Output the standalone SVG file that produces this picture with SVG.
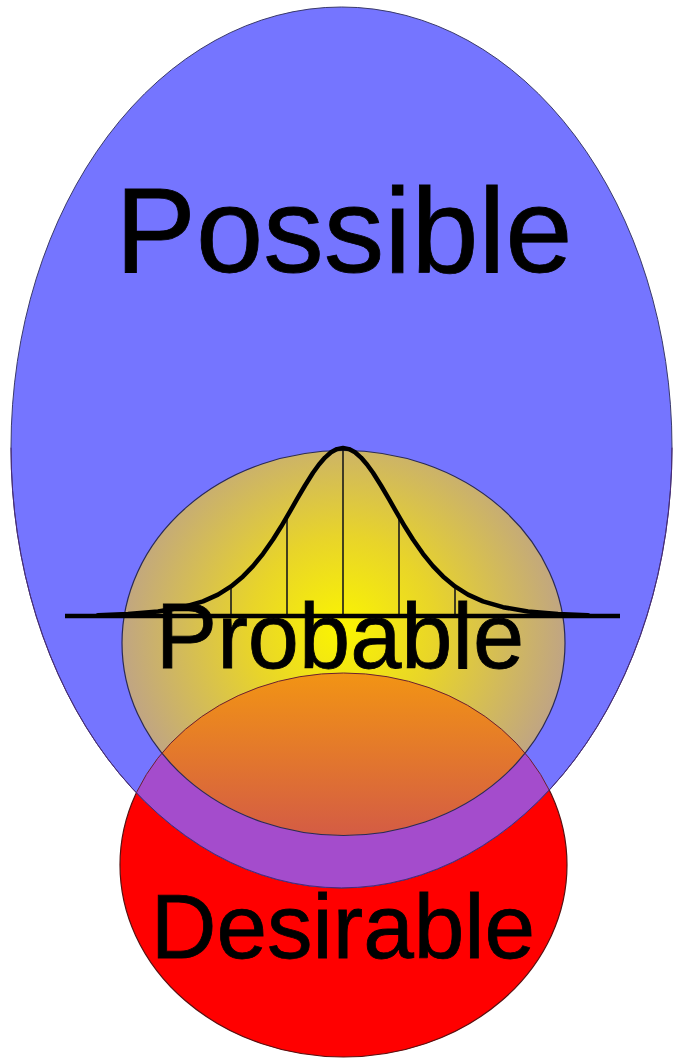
<svg xmlns="http://www.w3.org/2000/svg" width="677" height="1059" viewBox="0 0 677 1059">
<style>
.lbl{font-family:"Liberation Sans",Arial,sans-serif;fill:#000;stroke:#000;stroke-width:0.8;text-anchor:middle}
.edge{fill:none;stroke:#2a2a55;stroke-width:1.2}
.tick{stroke:#1a1a1a;stroke-width:1.6}
</style>
<defs>
<clipPath id="clipBlue"><ellipse cx="341.5" cy="447.5" rx="330.5" ry="440.5"/></clipPath>
<clipPath id="clipProb"><ellipse cx="343.5" cy="643" rx="221.5" ry="192.5"/></clipPath>
<radialGradient id="gProb" gradientUnits="userSpaceOnUse" cx="343" cy="630" r="235">
<stop offset="0" stop-color="#fbf500"/>
<stop offset="0.4" stop-color="#e8d42a"/>
<stop offset="1" stop-color="#bca08c"/>
</radialGradient>
<linearGradient id="gOrange" gradientUnits="userSpaceOnUse" x1="0" y1="673" x2="0" y2="835">
<stop offset="0" stop-color="#f29414"/>
<stop offset="1" stop-color="#d45c44"/>
</linearGradient>
</defs>
<rect width="677" height="1059" fill="#fff"/>
<g id="desirable">
<ellipse cx="343.5" cy="865" rx="223.5" ry="192" fill="#ff0000" stroke="#5a1010" stroke-width="1.2"/>
</g>
<g id="possible">
<ellipse cx="341.5" cy="447.5" rx="330.5" ry="440.5" fill="#7575ff" stroke="#3a3a6a" stroke-width="1"/>
<ellipse cx="343.5" cy="865" rx="223.5" ry="192" fill="#a44ccc" clip-path="url(#clipBlue)"/>
</g>
<g id="probable">
<ellipse cx="343.5" cy="643" rx="221.5" ry="192.5" fill="url(#gProb)"/>
<ellipse cx="343.5" cy="865" rx="223.5" ry="192" fill="url(#gOrange)" clip-path="url(#clipProb)"/>
<ellipse class="edge" cx="343.5" cy="643" rx="221.5" ry="192.5"/>
<ellipse cx="343.5" cy="865" rx="223.5" ry="192" fill="none" stroke="#6a2030" stroke-width="1" clip-path="url(#clipBlue)"/>
<path d="M 11,447.5 A 330.5,440.5 0 0 0 672,447.5" fill="none" stroke="#4a2a7a" stroke-width="1"/>
</g>
<g id="bell-curve">
<line class="tick" x1="231" y1="616" x2="231" y2="586"/>
<line class="tick" x1="287" y1="616" x2="287" y2="517"/>
<line class="tick" x1="343" y1="616" x2="343" y2="449"/>
<line class="tick" x1="399" y1="616" x2="399" y2="517"/>
<line class="tick" x1="455" y1="616" x2="455" y2="586"/>
<line x1="65" y1="616" x2="620" y2="616" stroke="#000" stroke-width="4.5"/>
<path d="M 98,615.2 L 128,614 L 158,611.5 L 183,607.2 L 203,601.4 L 218,594.6 L 231,586.4 L 243,576.4 L 253,566.1 L 263,553.8 L 273,539.5 L 281,526.8 L 289,513.2 L 297,499.2 L 305,485.5 L 313,472.8 L 319,464.5 L 325,457.6 L 331,452.3 L 337,449.1 L 343,448 L 349,449.1 L 355,452.3 L 361,457.6 L 367,464.5 L 373,472.8 L 381,485.5 L 389,499.2 L 397,513.2 L 405,526.8 L 413,539.5 L 423,553.8 L 433,566.1 L 443,576.4 L 455,586.4 L 468,594.6 L 483,601.4 L 503,607.2 L 528,611.5 L 558,614 L 588,615.2" fill="none" stroke="#000" stroke-width="4.5" stroke-linejoin="round" stroke-linecap="round"/>
</g>
<g id="labels">
<text class="lbl" x="344" y="272" font-size="121">Possible</text>
<text class="lbl" x="340" y="668" font-size="92">Probable</text>
<text class="lbl" x="343" y="958" font-size="91">Desirable</text>
</g>
</svg>
